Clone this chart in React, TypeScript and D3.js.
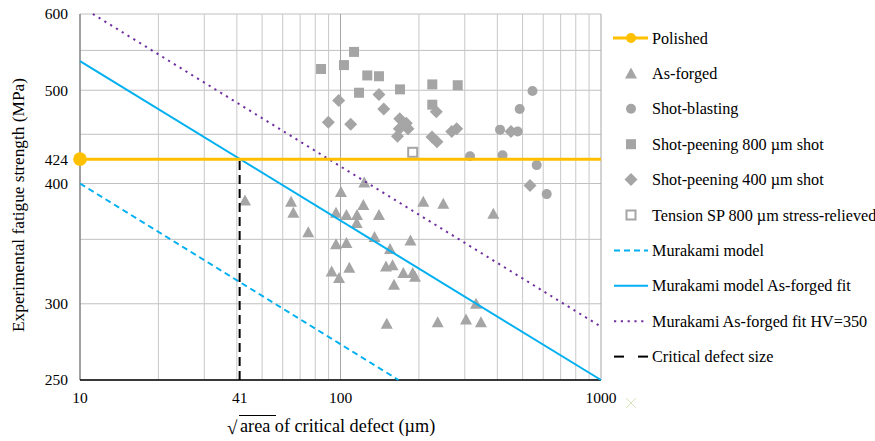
import React from "react"
import * as d3 from "d3"

// fatigue strength vs sqrt(area) of critical defect, log-log

const asForged: [number, number][] = [
  [43, 384], [64.6, 383], [65.9, 373], [75.2, 356], [100.4, 392], [123.4, 401],
  [96.1, 373], [105.4, 371], [115.7, 371], [122.4, 380], [115.4, 364], [140.5, 371],
  [135.1, 352], [96.1, 346], [105.4, 347], [154.9, 342], [185.6, 349], [207.9, 383],
  [248.1, 381], [386.1, 372], [92.5, 324], [98.7, 319], [108.1, 327], [149.5, 328],
  [158.4, 329], [174.2, 323], [189.3, 323], [193.2, 320], [160.5, 314], [331.3, 300],
  [150.5, 286], [236.1, 287], [303.3, 289], [346.1, 287],
]
const shotBlasting: [number, number][] = [
  [314.2, 427], [418.8, 428], [409.6, 455], [478.8, 453], [487.4, 478], [545.8, 499],
  [566.5, 418], [618.8, 390],
]
const sp800: [number, number][] = [
  [84.2, 526], [103.1, 531], [112.7, 548], [117.8, 497], [126.7, 518], [140.5, 517],
  [169.2, 501], [225.1, 507], [281.8, 506], [225.1, 483],
]
const sp400: [number, number][] = [
  [89.8, 463], [98.4, 488], [109.4, 461], [140.5, 495], [146.6, 478], [168.8, 467],
  [178.9, 462], [181.6, 456], [168.2, 456], [165.5, 448], [233.2, 475], [224.5, 447],
  [234.6, 442], [267.3, 453], [279.3, 456], [451.3, 453], [533.9, 398],
]
const tensionSP: [number, number][] = [[189.3, 431]]

const polished: [number, number][] = [[10, 424], [1000, 424]]
const murakami: [number, number][] = [[10, 400], [167, 250]]
const murakamiFit: [number, number][] = [[10, 536], [1000, 250]]
const murakamiHV350: [number, number][] = [[11.2, 600], [1000, 284]]
const criticalSize: [number, number][] = [[41, 250], [41, 424]]

const xTicks = [10, 41, 100, 1000]
const yTicks = [250, 300, 400, 424, 500, 600]
const yGrid = [250, 300, 350, 400, 450, 500, 550, 600]

const legendLabels = [
  "Polished",
  "As-forged",
  "Shot-blasting",
  "Shot-peening 800 µm shot",
  "Shot-peening 400 µm shot",
  "Tension SP 800 µm stress-relieved",
  "Murakami model",
  "Murakami model As-forged fit",
  "Murakami As-forged fit HV=350",
  "Critical defect size",
]

const GRAY = "#a5a5a5"
const ORANGE = "#ffc000"
const BLUE = "#00b0f0"
const PURPLE = "#7030a0"
const FONT = "Liberation Serif, DejaVu Serif, serif"

const x = d3.scaleLog().domain([10, 1000]).range([80, 601])
const y = d3.scaleLog().domain([250, 600]).range([380, 14])

const xGrid: number[] = []
for (let d = 10; d < 1000; d *= 10) {
  for (let k = 1; k < 10; k++) xGrid.push(d * k)
}
xGrid.push(1000)

const line = d3.line<[number, number]>().x(d => x(d[0])).y(d => y(d[1]))

function Marker({ kind, cx, cy }: { kind: string; cx: number; cy: number }) {
  if (kind === "tri")
    return <path d={`M${cx},${cy - 6}L${cx + 6},${cy + 5}L${cx - 6},${cy + 5}Z`} fill={GRAY} />
  if (kind === "circ") return <circle cx={cx} cy={cy} r={5} fill={GRAY} />
  if (kind === "sq") return <rect x={cx - 5} y={cy - 5} width={10} height={10} fill={GRAY} />
  if (kind === "dia")
    return <path d={`M${cx},${cy - 6.5}L${cx + 6.5},${cy}L${cx},${cy + 6.5}L${cx - 6.5},${cy}Z`} fill={GRAY} />
  return <rect x={cx - 4.5} y={cy - 4.5} width={9} height={9} fill="#fff" stroke={GRAY} strokeWidth={2} />
}

export default function App() {
  const series: [string, [number, number][]][] = [
    ["tri", asForged],
    ["circ", shotBlasting],
    ["sq", sp800],
    ["dia", sp400],
    ["hollow", tensionSP],
  ]
  const ly = (i: number) => 38 + i * 35.4
  const txt = { fontFamily: FONT }
  return (
    <svg width={875} height={441} style={{ position: "absolute", left: 0, top: 0, background: "#fff" }}>
      {/* grid */}
      {yGrid.map(v => (
        <line key={"gy" + v} x1={80} x2={601} y1={y(v)} y2={y(v)} stroke="#c0c0c0" strokeWidth={1} />
      ))}
      {xGrid.map(v => (
        <line key={"gx" + v} x1={x(v)} x2={x(v)} y1={14} y2={380}
          stroke={[10, 100, 1000].includes(v) ? "#a6a6a6" : "#c8c8c8"} strokeWidth={1} />
      ))}
      <line x1={80} x2={80} y1={14} y2={380} stroke="#7f7f7f" strokeWidth={1.2} />
      <line x1={80} x2={601} y1={380} y2={380} stroke="#000" strokeWidth={1.5} />

      {/* scatter */}
      {series.map(([kind, data]) =>
        data.map((d, i) => <Marker key={kind + i} kind={kind} cx={x(d[0])} cy={y(d[1])} />)
      )}

      {/* lines */}
      <path d={line(murakami) || ""} stroke={BLUE} strokeWidth={2} fill="none" strokeDasharray="6,4" />
      <path d={line(murakamiFit) || ""} stroke={BLUE} strokeWidth={2} fill="none" />
      <path d={line(murakamiHV350) || ""} stroke={PURPLE} strokeWidth={2} fill="none" strokeDasharray="2.2,4.6" />
      <path d={line(criticalSize) || ""} stroke="#000" strokeWidth={2} fill="none" strokeDasharray="9,5" />
      <path d={line(polished) || ""} stroke={ORANGE} strokeWidth={3} fill="none" />
      <circle cx={x(polished[0][0])} cy={y(polished[0][1])} r={6.8} fill={ORANGE} />

      {/* axis labels */}
      {yTicks.map(v => (
        <text key={"yt" + v} x={68} y={y(v)} dy="0.35em" textAnchor="end" fontSize={15.5} fill="#000" style={txt}>{v}</text>
      ))}
      {xTicks.map(v => (
        <text key={"xt" + v} x={x(v)} y={403} textAnchor="middle" fontSize={15.5} fill="#000" style={txt}>{v}</text>
      ))}
      <text transform="translate(24,205) rotate(-90)" textAnchor="middle" fontSize={17.3} fill="#000" style={txt}>
        Experimental fatigue strength (MPa)
      </text>
      <g>
        <text x={227} y={434} fontSize={19} fill="#000" style={txt}>√</text>
        <line x1={239} x2={276} y1={415.5} y2={415.5} stroke="#000" strokeWidth={1} />
        <text x={240} y={432} fontSize={18.2} fill="#000" style={txt}>area of critical defect (µm)</text>
      </g>
      {/* stray marker */}
      <path d="M626,398L636,408M636,398L626,408" stroke="#d8e4bc" strokeWidth={1} />

      {/* legend */}
      <g>
        <line x1={613} x2={648} y1={ly(0)} y2={ly(0)} stroke={ORANGE} strokeWidth={3} />
        <circle cx={631} cy={ly(0)} r={5} fill={ORANGE} />
        <Marker kind="tri" cx={631} cy={ly(1)} />
        <Marker kind="circ" cx={631} cy={ly(2)} />
        <Marker kind="sq" cx={631} cy={ly(3)} />
        <Marker kind="dia" cx={631} cy={ly(4)} />
        <Marker kind="hollow" cx={631} cy={ly(5)} />
        <line x1={614} x2={648} y1={ly(6)} y2={ly(6)} stroke={BLUE} strokeWidth={2} strokeDasharray="6,4" />
        <line x1={614} x2={648} y1={ly(7)} y2={ly(7)} stroke={BLUE} strokeWidth={2} />
        <line x1={614} x2={648} y1={ly(8)} y2={ly(8)} stroke={PURPLE} strokeWidth={2} strokeDasharray="2.2,4.6" />
        <line x1={614} x2={624} y1={ly(9)} y2={ly(9)} stroke="#000" strokeWidth={2} />
        <line x1={638} x2={648} y1={ly(9)} y2={ly(9)} stroke="#000" strokeWidth={2} />
        {legendLabels.map((t, i) => (
          <text key={t} x={652} y={ly(i)} dy="0.35em" fontSize={16.2} fill="#000" style={txt}>{t}</text>
        ))}
      </g>
    </svg>
  )
}
